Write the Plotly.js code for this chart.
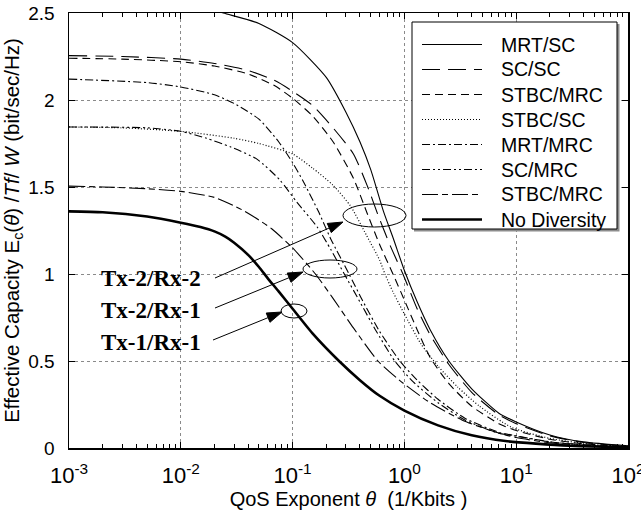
<!DOCTYPE html>
<html><head><meta charset="utf-8">
<script src="https://cdn.plot.ly/plotly-3.0.1.min.js"></script>
<style>html,body{margin:0;padding:0;background:#fff}</style>
</head><body><div id="chart" style="width:641px;height:513px"></div>
<script>
// ---- data ----
const seriesNames = ['MRT/SC','SC/SC','STBC/MRC','STBC/SC','MRT/MRC','SC/MRC','STBC/MRC','No Diversity'];

const mrtScTheta = [0.001,0.003,0.01,0.024,0.05,0.1,0.2,0.3,0.4,0.5,0.65,0.8,1.0,1.3,1.7,2.5,4,7,10,20,40,100];
const mrtScCap   = [2.63,2.61,2.57,2.5,2.44,2.33,2.13,1.93,1.76,1.6,1.36,1.2,1.02,0.84,0.68,0.5,0.34,0.2,0.15,0.075,0.035,0.012];

const scScTheta = [0.001,0.003,0.01,0.02,0.04,0.07,0.1,0.15,0.23,0.35,0.47,0.58,0.75,0.97,1.3,1.7,2.5,4,7,10,20,40,100];
const scScCap   = [2.255,2.25,2.235,2.21,2.17,2.11,2.05,1.97,1.84,1.69,1.5,1.34,1.16,1.0,0.8,0.65,0.48,0.32,0.19,0.14,0.07,0.032,0.011];

const stbcMrc22Theta = [0.001,0.003,0.01,0.02,0.04,0.07,0.1,0.15,0.23,0.35,0.47,0.6,0.79,1.0,1.3,1.7,2.5,4,7,10,20,40,100];
const stbcMrc22Cap   = [2.24,2.235,2.22,2.195,2.15,2.08,2.01,1.91,1.76,1.55,1.34,1.17,1.0,0.85,0.68,0.52,0.37,0.24,0.14,0.1,0.05,0.024,0.008];

const stbcScTheta = [0.001,0.003,0.01,0.03,0.05,0.1,0.15,0.23,0.33,0.46,0.6,0.67,0.8,1.0,1.4,2.0,3,4.7,9,20,50,100];
const stbcScCap   = [1.845,1.84,1.82,1.78,1.75,1.69,1.61,1.51,1.39,1.22,1.08,1.0,0.89,0.77,0.6,0.47,0.35,0.24,0.12,0.055,0.02,0.009];

const mrtMrcTheta = [0.001,0.005,0.01,0.02,0.03,0.05,0.075,0.1,0.125,0.17,0.22,0.32,0.42,0.6,0.91,1.3,2,3.5,7,10,20,50,100];
const mrtMrcCap   = [2.12,2.10,2.075,2.03,1.98,1.89,1.76,1.64,1.53,1.36,1.2,1.0,0.85,0.67,0.5,0.39,0.28,0.17,0.09,0.07,0.036,0.014,0.007];

const scMrcTheta = [0.001,0.005,0.01,0.017,0.028,0.048,0.077,0.11,0.166,0.22,0.29,0.4,0.55,0.82,1.2,2,3.5,7,10,20,50,100];
const scMrcCap   = [1.845,1.84,1.82,1.78,1.73,1.66,1.54,1.41,1.27,1.14,1.0,0.84,0.68,0.5,0.38,0.26,0.16,0.085,0.068,0.035,0.013,0.006];

const stbcMrc21Theta = [0.001,0.002,0.005,0.01,0.02,0.035,0.05,0.065,0.1,0.16,0.23,0.35,0.58,0.9,1.7,3.3,6.6,10,20,50,100];
const stbcMrc21Cap   = [1.505,1.5,1.49,1.475,1.44,1.37,1.31,1.26,1.15,1.0,0.86,0.69,0.5,0.39,0.26,0.16,0.09,0.06,0.03,0.011,0.005];

const noDivTheta = [0.001,0.002,0.005,0.01,0.015,0.02,0.025,0.03,0.04,0.05,0.06,0.075,0.1,0.15,0.26,0.4,0.6,1.0,2.0,4,8,15,30,100];
const noDivCap   = [1.36,1.355,1.33,1.295,1.27,1.245,1.215,1.18,1.11,1.04,0.975,0.9,0.8,0.66,0.5,0.39,0.3,0.215,0.13,0.073,0.04,0.025,0.013,0.004];

const xTickVals = [0.001,0.01,0.1,1,10,100];
const xTickText = ['10<sup>-3</sup>','10<sup>-2</sup>','10<sup>-1</sup>','10<sup>0</sup>','10<sup>1</sup>','10<sup>2</sup>'];
const groupLabels = ['Tx-2/Rx-2','Tx-2/Rx-1','Tx-1/Rx-1'];

// ---- styles ----
const dashes = ['solid','18px,8px','8px,5px','1px,2px','8px,3px,2px,3px','8px,3px,2px,3px,2px,3px','16px,4px,6px,4px','solid'];
const widths = [1.1,1.1,1.1,1.2,1.1,1.1,1.1,2.6];
const thetaSets = [mrtScTheta,scScTheta,stbcMrc22Theta,stbcScTheta,mrtMrcTheta,scMrcTheta,stbcMrc21Theta,noDivTheta];
const capSets = [mrtScCap,scScCap,stbcMrc22Cap,stbcScCap,mrtMrcCap,scMrcCap,stbcMrc21Cap,noDivCap];

const traces = seriesNames.map((n,i)=>({
  type:'scatter', mode:'lines', name:n, x:thetaSets[i], y:capSets[i],
  line:{color:'black', width:widths[i], dash:dashes[i], shape:'spline', smoothing:0.6},
  showlegend:false, hoverinfo:'skip'
}));

// plot area in pixels
const L=69, R=628, T=13, B=448;
const px = v => (v-L)/(R-L);
const py = v => (B-v)/(B-T);

const shapes = [];
const annotations = [];
// legend box with shadow
shapes.push({type:'rect', xref:'paper', yref:'paper', x0:px(414), x1:px(619.5), y0:py(231.5), y1:py(24), fillcolor:'#8c8c8c', line:{width:0}, layer:'above'});
shapes.push({type:'rect', xref:'paper', yref:'paper', x0:px(412), x1:px(617), y0:py(229), y1:py(22), fillcolor:'white', line:{color:'black', width:1}, layer:'above'});
seriesNames.forEach((n,i)=>{
  const yy = 44.5 + 25*i;
  shapes.push({type:'line', xref:'paper', yref:'paper', x0:px(422), x1:px(482), y0:py(yy), y1:py(yy),
    line:{color:'black', width:widths[i], dash:dashes[i]}, layer:'above'});
  annotations.push({xref:'paper', yref:'paper', x:px(498.5), y:py(yy), xanchor:'left', yanchor:'middle',
    text:n, showarrow:false, font:{family:'Liberation Sans, Arial, sans-serif', size:19.5, color:'black'}});
});
// ellipses
const ell = [[343,406,204,227],[303,357,260,278],[281,307,304,318]];
ell.forEach(e=>shapes.push({type:'circle', xref:'paper', yref:'paper', x0:px(e[0]), x1:px(e[1]), y0:py(e[3]), y1:py(e[2]), line:{color:'black', width:1}, layer:'above'}));
// arrows: [tailX, tailY, headX, headY] drawn as line + filled triangle head
const arr = [[215,278,343,222],[215,308,303,272],[213,340,282,312]];
arr.forEach(a=>{
  const dx=a[2]-a[0], dy=a[3]-a[1], len=Math.hypot(dx,dy), ux=dx/len, uy=dy/len;
  const hl=15, hw=5;
  const bx=a[2]-hl*ux, by=a[3]-hl*uy;
  shapes.push({type:'line', xref:'paper', yref:'paper', x0:px(a[0]), y0:py(a[1]), x1:px(bx), y1:py(by), line:{color:'black', width:1}, layer:'above'});
  const p1=[bx-hw*uy, by+hw*ux], p2=[bx+hw*uy, by-hw*ux];
  shapes.push({type:'path', xref:'paper', yref:'paper',
    path:'M'+px(a[2])+','+py(a[3])+' L'+px(p1[0])+','+py(p1[1])+' L'+px(p2[0])+','+py(p2[1])+' Z',
    fillcolor:'black', line:{color:'black', width:1}, layer:'above'});
});
// group labels
const labY = [278,310,342];
groupLabels.forEach((t,i)=>annotations.push({xref:'paper', yref:'paper', x:px(99), y:py(labY[i]), xanchor:'left', yanchor:'middle',
  text:'<b>'+t+'</b>', showarrow:false, font:{family:'Liberation Serif, Times New Roman, serif', size:23, color:'black'}}));

const minorVals = [];
for (let d=-3; d<2; d++) for (let k=2; k<10; k++) minorVals.push(k*Math.pow(10,d));

const fam = 'Liberation Sans, Arial, sans-serif';
const layout = {
  width:641, height:513,
  margin:{l:L, r:641-R, t:T, b:513-B},
  paper_bgcolor:'white', plot_bgcolor:'white',
  showlegend:false,
  xaxis:{type:'log', range:[-3.0001,2.0001], tickmode:'array', tickvals:xTickVals, ticktext:xTickText,
    ticks:'inside', ticklen:6, tickwidth:1, tickcolor:'black', ticklabeloverflow:'allow',
    showline:true, linecolor:'black', linewidth:1.5, mirror:'ticks',
    showgrid:true, gridcolor:'#8a8a8a', gridwidth:1, griddash:'dot', zeroline:false,
    tickfont:{family:fam, size:22, color:'black'}, ticklabelstandoff:7,
    minor:{tickmode:'array', tickvals:minorVals, ticks:'inside', ticklen:4, tickcolor:'black', showgrid:false},
    title:{text:'QoS Exponent <i>θ</i>\u00a0\u00a0(1/Kbits\u00a0)', font:{family:fam, size:20, color:'black'}, standoff:5}},
  yaxis:{range:[0,2.5], tickmode:'linear', tick0:0, dtick:0.5,
    ticks:'inside', ticklen:6, tickwidth:1, tickcolor:'black',
    showline:true, linecolor:'black', linewidth:1.5, mirror:'ticks',
    showgrid:true, gridcolor:'#8a8a8a', gridwidth:1, griddash:'dot', zeroline:false,
    tickfont:{family:fam, size:19, color:'black'}, ticklabelstandoff:9,
    title:{text:'Effective Capacity E<sub>c</sub>(<i>θ</i>) /<i>Tf</i>/ <i>W</i> (bit/sec/Hz)', font:{family:fam, size:20.5, color:'black'}, standoff:3}},
  shapes:shapes, annotations:annotations
};
Plotly.newPlot('chart', traces, layout, {staticPlot:true, displayModeBar:false});
</script></body></html>
